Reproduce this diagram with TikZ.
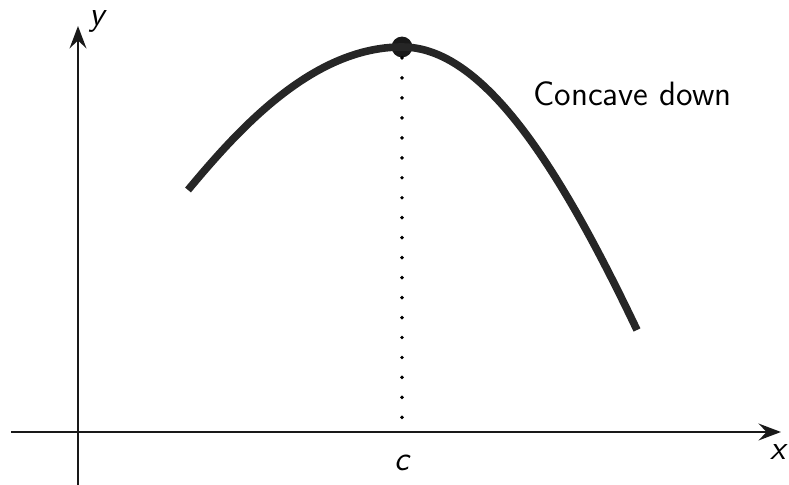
\documentclass[tikz,border=0pt]{standalone}
\usepackage{tikz}
\usetikzlibrary{arrows.meta,positioning}
\tikzset{
  axis/.style={-{Stealth[length=2.8mm, width=2.1mm, inset=1mm]}, line width=1.05pt, black!90},
  graphline/.style={line width=2.7pt, line cap=butt, black!85},
  guide/.style={line width=1.4pt, line cap=round, dash pattern=on 0pt off 7.1pt},
  peak/.style={circle, fill=black!90, inner sep=0pt, minimum size=2.6mm},
  axislabel/.style={font=\large\sffamily\itshape, inner sep=0pt},
  caption/.style={font=\large\sffamily, inner sep=0pt, anchor=base west}
}
\begin{document}
\begin{tikzpicture}[x=0.0125cm, y=-0.0125cm]
  \useasboundingbox (0,0) rectangle (789,485);
  % axes
  \coordinate (xstart) at (11,432);
  \coordinate (xend) at (781,432);
  \coordinate (ystart) at (78,485);
  \coordinate (yend) at (78,26);
  \coordinate (cfoot) at (402,432);
  \draw[axis] (xstart) -- (xend);
  \draw[axis] (ystart) -- (yend);
  \node[axislabel] (xlab) at (778,452) {x};
  \node[axislabel] (ylab) at (97,21) {y};
  \node[axislabel] (clab) at (402,463) {c};
  % curve with its maximum at c
  \coordinate (left) at (188,190);
  \coordinate (right) at (637,330);
  \node[peak] (top) at (402,47) {};
  \draw[guide] (top) -- (cfoot);
  \draw[graphline] (left) .. controls (238,130) and (312,47) .. (top.center)
    .. controls (482,47) and (557,162) .. (right);
  \node[caption] (note) at (533,106) {Concave down};
\end{tikzpicture}
\end{document}
